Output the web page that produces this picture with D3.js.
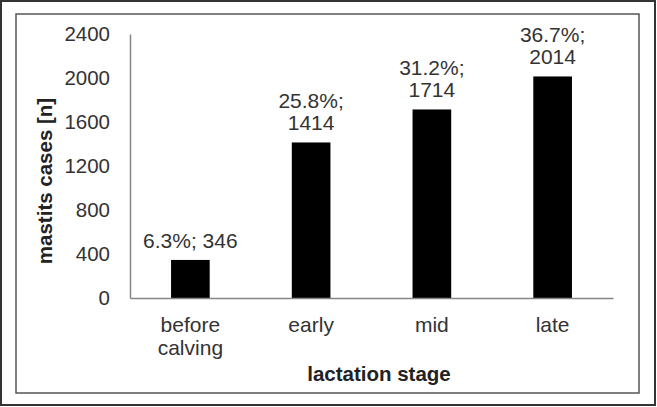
<!DOCTYPE html>
<html>
<head>
<meta charset="utf-8">
<script src="https://cdn.jsdelivr.net/npm/d3@7"></script>
<style>
  html, body { margin: 0; padding: 0; background: #fff; }
  svg { display: block; font-family: "Liberation Sans", Arial, sans-serif; }
</style>
</head>
<body>
<svg id="chart" width="657" height="407"></svg>
<script>
const categories = ["before calving", "early", "mid", "late"];
const categoryLines = [["before", "calving"], ["early"], ["mid"], ["late"]];
const cases = [346, 1414, 1714, 2014];
const percents = ["6.3%", "25.8%", "31.2%", "36.7%"];
const valueLabelLines = [["6.3%; 346"], ["25.8%;", "1414"], ["31.2%;", "1714"], ["36.7%;", "2014"]];
const yTicks = [0, 400, 800, 1200, 1600, 2000, 2400];
const yTitle = "mastits cases [n]";
const xTitle = "lactation stage";

const svg = d3.select("#chart");
const textColor = "#333";
const axisColor = "#868686";
const fontFam = "'Liberation Sans', Arial, sans-serif";

// frames
svg.append("rect").attr("x", 1).attr("y", 1).attr("width", 654).attr("height", 404)
  .attr("fill", "#fff").attr("stroke", "#333").attr("stroke-width", 2);
svg.append("rect").attr("x", 16).attr("y", 14).attr("width", 623).attr("height", 379)
  .attr("fill", "none").attr("stroke", "#555").attr("stroke-width", 1.5);

const plot = { left: 130, right: 613, top: 34, bottom: 298 };

const x = d3.scaleBand().domain(categories).range([plot.left, plot.right])
  .paddingInner(0.68).paddingOuter(0.34);
const y = d3.scaleLinear().domain([0, 2400]).range([plot.bottom, plot.top]);

// y axis
const yAxis = svg.append("g").attr("transform", `translate(${plot.left},0)`)
  .call(d3.axisLeft(y).tickValues(yTicks).tickFormat(d3.format("d"))
    .tickSize(0).tickSizeOuter(0).tickPadding(20));
yAxis.attr("font-family", null).attr("font-size", null);
yAxis.select(".domain").attr("stroke", axisColor).attr("stroke-width", 1.5);
yAxis.selectAll("text").attr("fill", textColor)
  .style("font-size", "20.5px").style("font-family", fontFam);

// bars
svg.append("g").selectAll("rect").data(categories).join("rect")
  .attr("x", d => x(d))
  .attr("width", x.bandwidth())
  .attr("y", (d, i) => y(cases[i]))
  .attr("height", (d, i) => y(0) - y(cases[i]))
  .attr("fill", "#000");

// x axis
const xAxis = svg.append("g").attr("transform", `translate(0,${plot.bottom})`)
  .call(d3.axisBottom(x).tickSize(0).tickSizeOuter(0).tickFormat(""));
xAxis.select(".domain").attr("stroke", axisColor).attr("stroke-width", 1.5);

// x tick labels
const xl = svg.append("g");
categories.forEach((c, i) => {
  const t = xl.append("text").attr("x", x(c) + x.bandwidth() / 2).attr("y", 332)
    .attr("text-anchor", "middle").attr("fill", textColor)
    .style("font-size", "21px").style("font-family", fontFam);
  categoryLines[i].forEach((ln, j) => {
    t.append("tspan").attr("x", x(c) + x.bandwidth() / 2).attr("dy", j === 0 ? 0 : 22.5).text(ln);
  });
});

// value labels
const vl = svg.append("g");
categories.forEach((c, i) => {
  const lines = valueLabelLines[i];
  const base = y(cases[i]) - 12;
  const t = vl.append("text").attr("text-anchor", "middle").attr("fill", textColor)
    .style("font-size", "21px").style("font-family", fontFam);
  lines.forEach((ln, j) => {
    t.append("tspan").attr("x", x(c) + x.bandwidth() / 2)
      .attr("y", base - (lines.length - 1 - j) * 22.5).text(ln);
  });
});

// axis titles
svg.append("text").attr("transform", "translate(52,181) rotate(-90)")
  .attr("text-anchor", "middle").attr("fill", "#222").attr("font-weight", "bold")
  .style("font-size", "20.5px").style("font-family", fontFam).text(yTitle);
svg.append("text").attr("x", 379).attr("y", 381)
  .attr("text-anchor", "middle").attr("fill", "#222").attr("font-weight", "bold")
  .style("font-size", "20.5px").style("font-family", fontFam).text(xTitle);
</script>
</body>
</html>
